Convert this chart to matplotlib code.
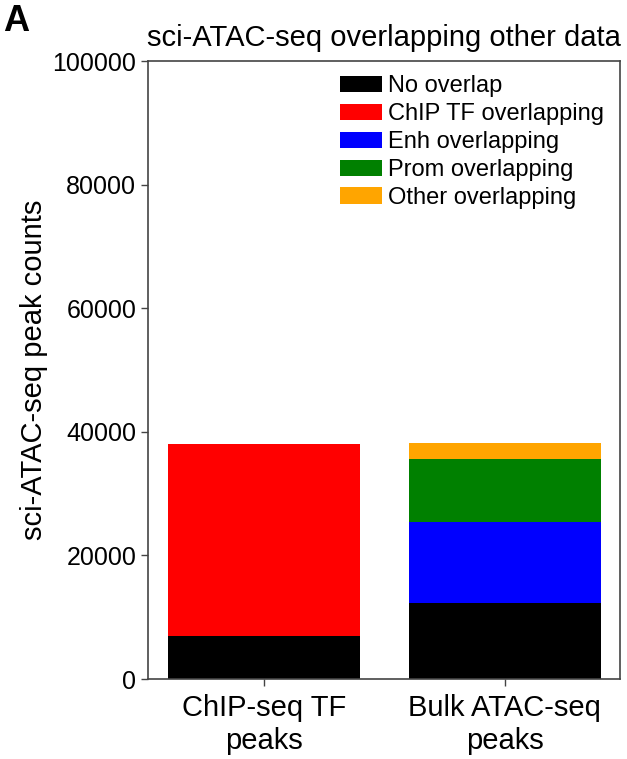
import matplotlib
matplotlib.use("Agg")
import matplotlib.pyplot as plt
import numpy as np

categories = ["ChIP-seq TF\npeaks", "Bulk ATAC-seq\npeaks"]
series_names = ["No overlap", "ChIP TF overlapping", "Enh overlapping",
                "Prom overlapping", "Other overlapping"]
no_overlap = [7000, 12350]
chip_tf = [31100, 0]
enh = [0, 13000]
prom = [0, 10200]
other = [0, 2600]
colors = ["black", "red", "blue", "green", "orange"]

plt.rcParams["font.family"] = ["Liberation Sans", "DejaVu Sans"]

fig = plt.figure(figsize=(6.27, 7.59), dpi=100)
ax = fig.add_axes([0.236, 0.1054, 0.753, 0.8142])

x = np.arange(len(categories))
bottom = np.zeros(len(categories))
for name, vals, c in zip(series_names, [no_overlap, chip_tf, enh, prom, other], colors):
    ax.bar(x, vals, width=0.8, bottom=bottom, color=c, label=name, linewidth=0)
    bottom += np.array(vals)

ax.set_xlim(-0.483, 1.479)
ax.set_ylim(0, 100000)
ax.set_yticks(range(0, 100001, 20000))
ax.set_xticks(x)
ax.set_xticklabels(categories, fontsize=21)
ax.tick_params(axis="y", labelsize=18, length=5, width=1, color="#444444")
ax.tick_params(axis="x", length=5, width=1, color="#444444", pad=6)
for s in ax.spines.values():
    s.set_color("#444444")
    s.set_linewidth(1.2)

ax.set_ylabel("sci-ATAC-seq peak counts", fontsize=21, labelpad=3)
ax.set_title("sci-ATAC-seq overlapping other data", fontsize=21, pad=11)

ax.legend(loc="upper left", bbox_to_anchor=(0.407, 0.977), frameon=False,
          fontsize=17, handlelength=1.78, handleheight=0.68,
          handletextpad=0.25, labelspacing=0.25, borderaxespad=0, borderpad=0)

fig.text(0.005, 0.995, "A", fontsize=26, fontweight="bold", va="top", ha="left")

fig.savefig("out.png", dpi=100)
